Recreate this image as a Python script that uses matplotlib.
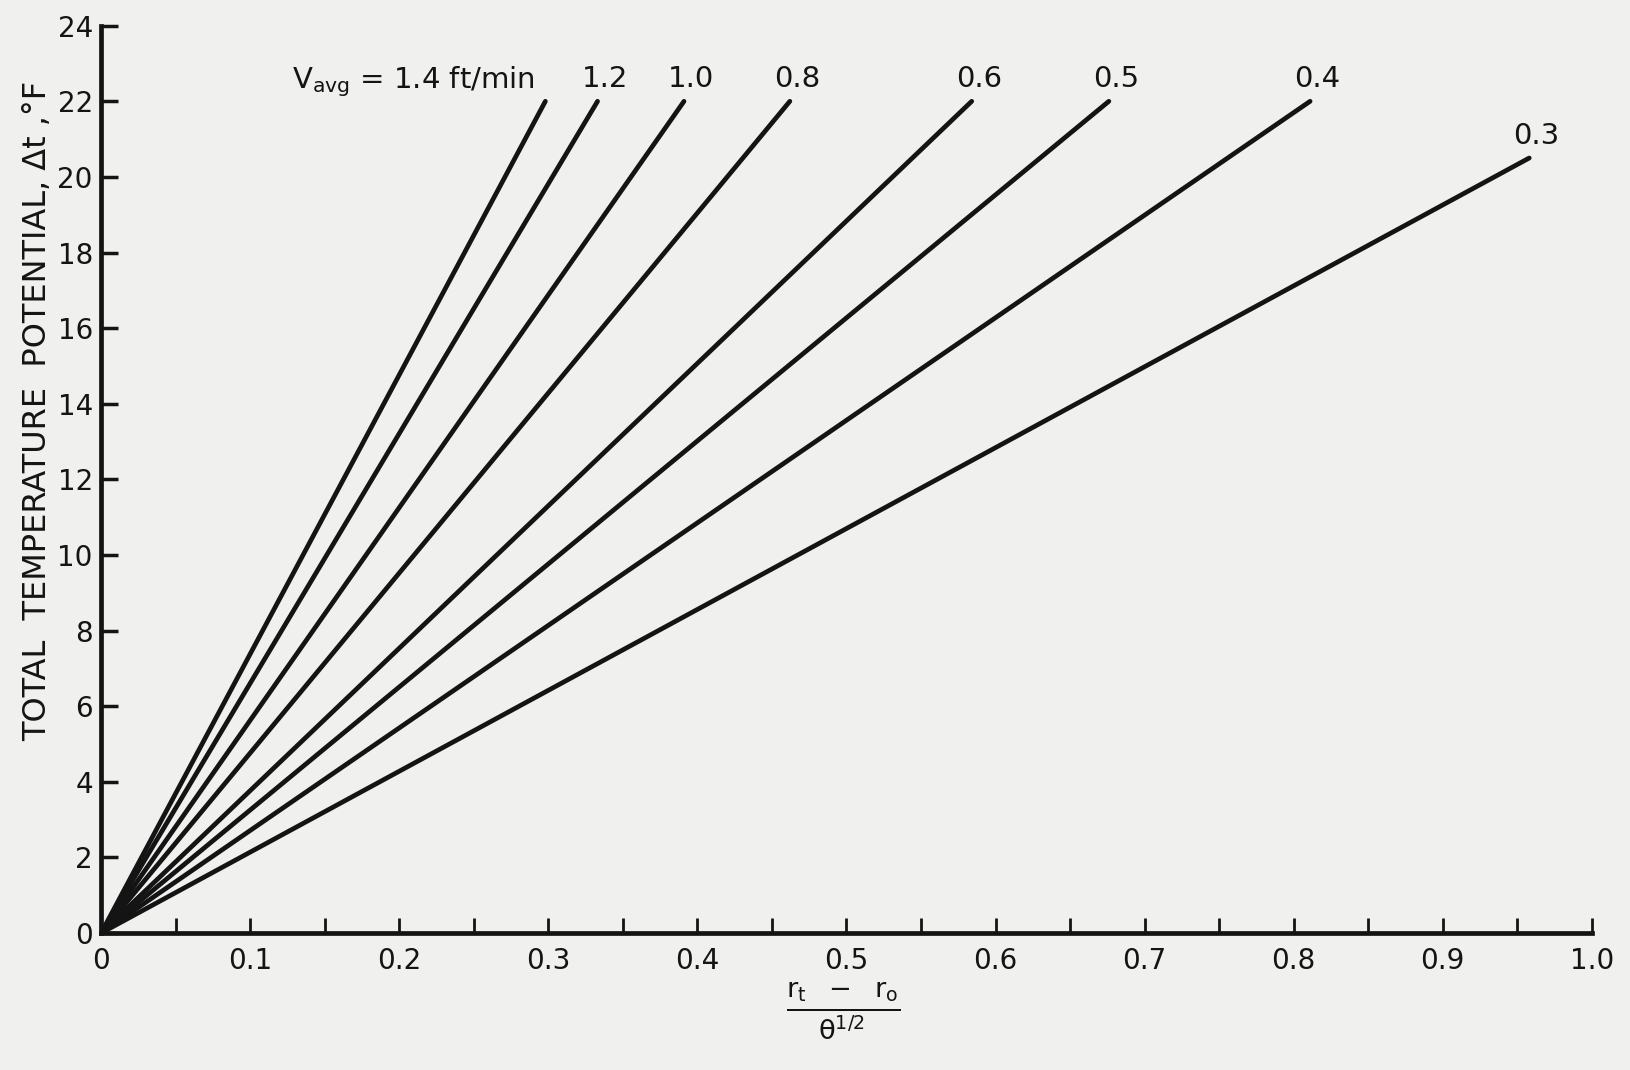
import matplotlib.pyplot as plt

plt.rcParams["font.family"] = ["DejaVu Sans"]
plt.rcParams["mathtext.fontset"] = "dejavusans"

# velocity curves: end point of each straight line from the origin
velocities = ["1.4", "1.2", "1.0", "0.8", "0.6", "0.5", "0.4", "0.3"]
x_end = [0.298, 0.333, 0.391, 0.462, 0.584, 0.676, 0.811, 0.958]
y_end = [22.0, 22.0, 22.0, 22.0, 22.0, 22.0, 22.0, 20.5]

x_ticks = [0, 0.05, 0.1, 0.15, 0.2, 0.25, 0.3, 0.35, 0.4, 0.45, 0.5,
           0.55, 0.6, 0.65, 0.7, 0.75, 0.8, 0.85, 0.9, 0.95, 1.0]
x_tick_labels = ["0", "", "0.1", "", "0.2", "", "0.3", "", "0.4", "", "0.5",
                 "", "0.6", "", "0.7", "", "0.8", "", "0.9", "", "1.0"]
y_ticks = [0, 2, 4, 6, 8, 10, 12, 14, 16, 18, 20, 22, 24]

paper = "#f0f0ee"
ink = "#141414"

fig = plt.figure(figsize=(16.31, 10.70), dpi=100, facecolor=paper)
ax = fig.add_axes([0.062, 0.128, 0.914, 0.848], facecolor=paper)

for v, xe, ye in zip(velocities, x_end, y_end):
    ax.plot([0, xe], [0, ye], color=ink, lw=3.4, solid_capstyle="round")
    if v == "1.4":
        label = r"$\mathregular{V_{avg}}$ = 1.4 ft/min"
        ax.annotate(label, (xe, ye), xytext=(-10, 20), textcoords="offset pixels",
                    ha="right", va="center", fontsize=21, color=ink)
    else:
        ax.annotate(v, (xe, ye), xytext=(7, 22), textcoords="offset pixels",
                    ha="center", va="center", fontsize=21, color=ink)

ax.set_xlim(0, 1.0)
ax.set_ylim(0, 24)
ax.set_xticks(x_ticks)
ax.set_xticklabels(x_tick_labels)
ax.set_yticks(y_ticks)
ax.tick_params(axis="x", direction="in", length=11, width=2, pad=10,
               labelsize=20, colors=ink)
ax.tick_params(axis="y", direction="in", length=12, width=2.5, pad=6,
               labelsize=20, colors=ink)

for side in ["top", "right"]:
    ax.spines[side].set_visible(False)
for side in ["left", "bottom"]:
    ax.spines[side].set_linewidth(3.4)
    ax.spines[side].set_color(ink)

ax.set_ylabel("TOTAL  TEMPERATURE  POTENTIAL, \u0394t ,\u00b0F", fontsize=23, color=ink)
ax.yaxis.set_label_coords(-0.032, 0.575)
ax.set_xlabel(r"$\mathregular{\frac{r_t\ \ -\ \ r_o}{\theta^{1/2}}}$", fontsize=28, color=ink)
ax.xaxis.set_label_coords(0.498, -0.052)

fig.savefig("out.png", dpi=100, facecolor=paper)
